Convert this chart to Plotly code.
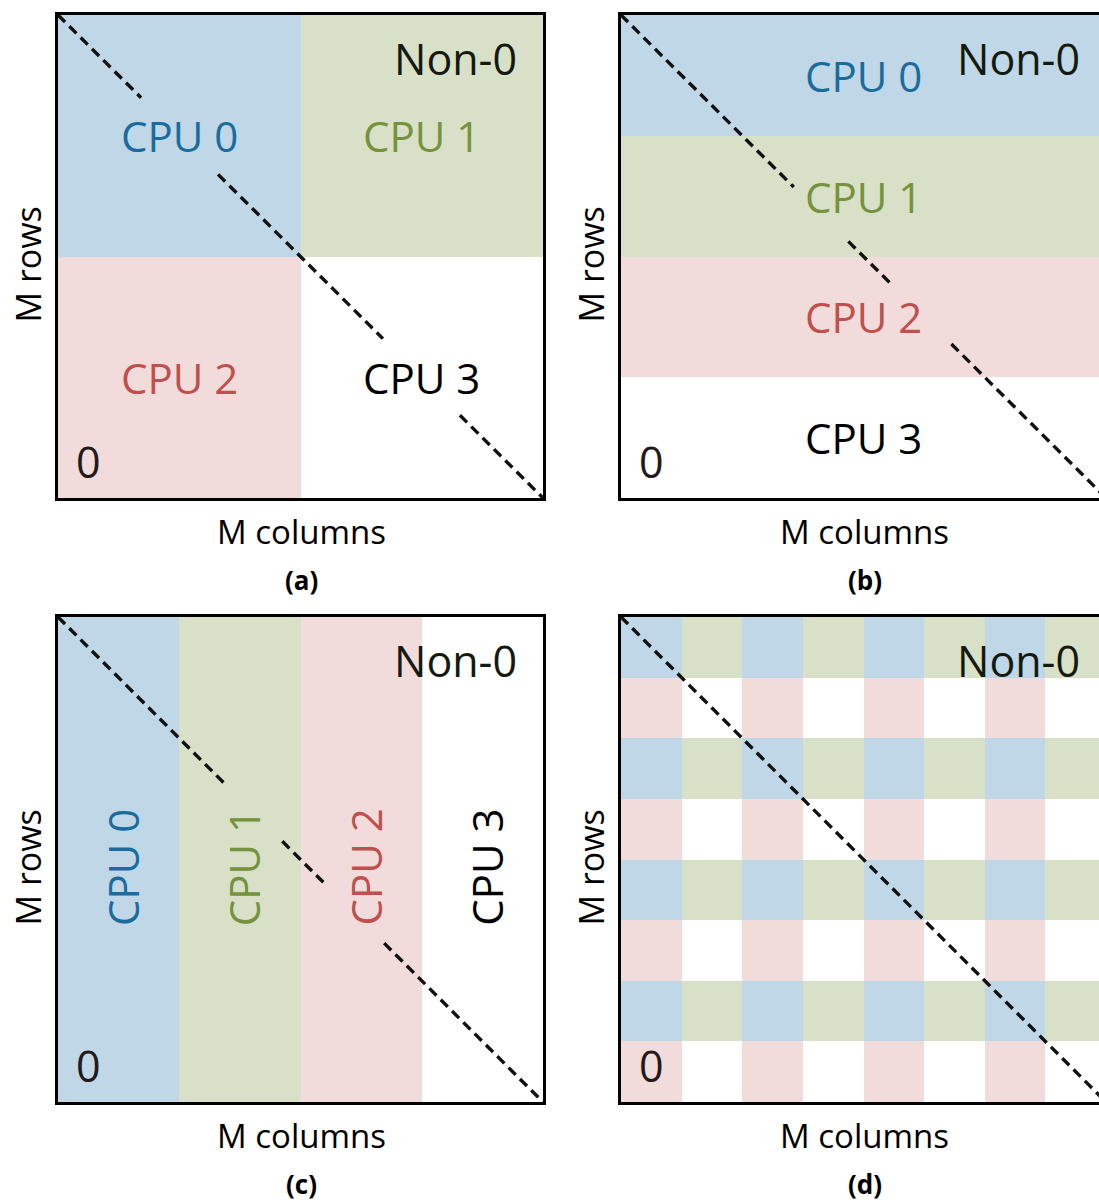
import plotly.graph_objects as go

# Matrix size in block units (an 8 x 8 grid of blocks)
N = 8

# Owner CPU of each block, listed top row first
owner_a = [[0, 1],
           [2, 3]]                      # 2x2 block partition
owner_b = [[0], [1], [2], [3]]          # row bands
owner_c = [[0, 1, 2, 3]]                # column bands
owner_d = [[0, 1, 0, 1, 0, 1, 0, 1],    # 2D block-cyclic
           [2, 3, 2, 3, 2, 3, 2, 3],
           [0, 1, 0, 1, 0, 1, 0, 1],
           [2, 3, 2, 3, 2, 3, 2, 3],
           [0, 1, 0, 1, 0, 1, 0, 1],
           [2, 3, 2, 3, 2, 3, 2, 3],
           [0, 1, 0, 1, 0, 1, 0, 1],
           [2, 3, 2, 3, 2, 3, 2, 3]]

cpu_names = ["CPU 0", "CPU 1", "CPU 2", "CPU 3"]
cpu_fill = ["#BFD7E6", "#D8E1C8", "#F2DCDB", "#FFFFFF"]
cpu_text = ["#1B6C9E", "#76923C", "#C0504D", "#000000"]

# Label anchor points (column, row-from-bottom) for each panel
label_pos_a = [(2, 6), (6, 6), (2, 2), (6, 2)]
label_pos_b = [(4, 7), (4, 5), (4, 3), (4, 1)]
label_pos_c = [(1, 3.87), (3, 3.87), (5, 3.87), (7, 3.87)]

# Visible pieces of the main diagonal (column where each dash run starts/ends)
diag_a = [(0.0, 1.37), (2.64, 5.36), (6.63, 8.0)]
diag_b = [(0.0, 2.85), (3.75, 4.45), (5.45, 8.0)]
diag_c = [(0.0, 2.75), (3.70, 4.41), (5.38, 8.0)]
diag_d = [(0.0, 8.0)]

panel_tags = ["(a)", "(b)", "(c)", "(d)"]

W, H = 1099, 1202
FONT = "Open Sans"

# Pixel boxes of the four panels: left, top, right, bottom
boxes = [(58, 15, 543, 498), (621, 15, 1106, 498),
         (58, 617, 543, 1102), (621, 617, 1106, 1102)]


def px_x(v):
    return v / W


def px_y(v):
    return 1 - v / H


# Stepped colour scale: owner id -> fill colour
colorscale = []
for i, c in enumerate(cpu_fill):
    colorscale.append([i / 4, c])
    colorscale.append([(i + 1) / 4, c])

fig = go.Figure()

owners = [owner_a, owner_b, owner_c, owner_d]
diags = [diag_a, diag_b, diag_c, diag_d]
annotations = []

for k in range(4):
    ax = "" if k == 0 else str(k + 1)
    xa, ya = "x" + ax, "y" + ax
    grid = owners[k]
    nrows, ncols = len(grid), len(grid[0])
    xe = [N * j / ncols for j in range(ncols + 1)]
    ye = [N * j / nrows for j in range(nrows + 1)]
    z = list(reversed(grid))  # bottom row first
    fig.add_trace(go.Heatmap(z=z, x=xe, y=ye, xaxis=xa, yaxis=ya,
                             colorscale=colorscale, zmin=-0.5, zmax=3.5,
                             showscale=False, hoverinfo="skip"))

    xs, ys = [], []
    for a, b in diags[k]:
        xs += [a, b, None]
        ys += [N - a, N - b, None]
    fig.add_trace(go.Scatter(x=xs, y=ys, xaxis=xa, yaxis=ya, mode="lines",
                             line=dict(color="#111111", width=3.4, dash="10px,6px"),
                             hoverinfo="skip", showlegend=False))

    l, t, r, b = boxes[k]
    right_clip = min(r, W)
    x_max = N * (right_clip - l) / (r - l)
    clipped = r > W
    fig.update_layout(**{
        "xaxis" + ax: dict(domain=[px_x(l), px_x(right_clip)], range=[0, x_max],
                           showgrid=False, zeroline=False, showticklabels=False,
                           ticks="", showline=True, linecolor="black",
                           linewidth=3, mirror=True, anchor=ya),
        "yaxis" + ax: dict(domain=[px_y(b), px_y(t)], range=[0, N],
                           showgrid=False, zeroline=False, showticklabels=False,
                           ticks="", showline=True, linecolor="black",
                           linewidth=3, mirror=not clipped, anchor=xa),
    })

    # corner labels
    annotations.append(dict(x=7.6, y=7.28, xref=xa, yref=ya, text="Non-0",
                            xanchor="right", yanchor="middle", showarrow=False,
                            font=dict(family=FONT, size=43, color="#141a10")))
    annotations.append(dict(x=0.5, y=0.6, xref=xa, yref=ya, text="0",
                            xanchor="center", yanchor="middle", showarrow=False,
                            font=dict(family=FONT, size=43, color="#231a1a")))

    # axis captions and panel tag
    cx = (l + r) / 2 + 1
    annotations.append(dict(x=px_x(cx), y=px_y(b + 33), xref="paper", yref="paper",
                            text="M columns", showarrow=False,
                            xanchor="center", yanchor="middle",
                            font=dict(family=FONT, size=33, color="black")))
    annotations.append(dict(x=px_x(l - 31), y=px_y((t + b) / 2 + 8), xref="paper",
                            yref="paper", text="M rows", textangle=-90,
                            showarrow=False, xanchor="center", yanchor="middle",
                            font=dict(family=FONT, size=34, color="black")))
    annotations.append(dict(x=px_x(cx), y=px_y(b + 82), xref="paper", yref="paper",
                            text="<b>" + panel_tags[k] + "</b>", showarrow=False,
                            xanchor="center", yanchor="middle",
                            font=dict(family=FONT, size=26, color="black")))

# CPU labels for the three contiguous partitions
for k, pos, angle in [(0, label_pos_a, 0), (1, label_pos_b, 0), (2, label_pos_c, -90)]:
    ax = "" if k == 0 else str(k + 1)
    for i, (px_, py_) in enumerate(pos):
        annotations.append(dict(x=px_, y=py_, xref="x" + ax, yref="y" + ax,
                                text=cpu_names[i], textangle=angle,
                                showarrow=False, xanchor="center", yanchor="middle",
                                xshift=4 if angle else 0,
                                font=dict(family=FONT, size=42, color=cpu_text[i])))

fig.update_layout(width=W, height=H, margin=dict(l=0, r=0, t=0, b=0),
                  paper_bgcolor="white", plot_bgcolor="white",
                  showlegend=False, annotations=annotations)

fig.write_html("out.html")
